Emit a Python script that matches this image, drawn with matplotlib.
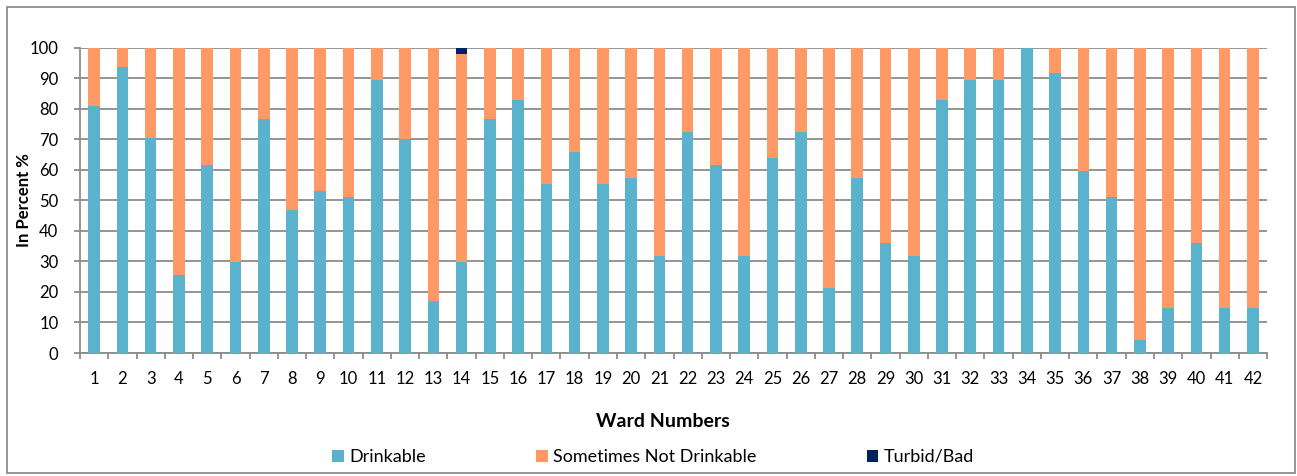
import numpy as np
import matplotlib
matplotlib.use("Agg")
import matplotlib.pyplot as plt
from matplotlib.patches import Rectangle

plt.rcParams['font.family'] = ['Lato', 'DejaVu Sans']

# share of households per ward (%)
wards = [str(i) for i in range(1, 43)]
drinkable = [81.0, 93.7, 70.4, 25.5, 61.7, 29.9, 76.7, 46.8, 53.2, 51.0,
             89.5, 70.2, 17.0, 29.9, 76.7, 83.0, 55.3, 65.9, 55.3, 57.3,
             31.8, 72.3, 61.7, 31.9, 63.9, 72.3, 21.2, 57.3, 36.1, 31.8,
             83.0, 89.5, 89.5, 100.0, 91.6, 59.5, 51.0, 4.3, 14.8, 36.1,
             14.8, 14.8]
turbid = [0] * 42
turbid[13] = 2.0
not_drinkable = [100 - d - t for d, t in zip(drinkable, turbid)]

labels = ['Drinkable', 'Sometimes Not Drinkable', 'Turbid/Bad']
colors = ['#5BB2CC', '#FF9966', '#002060']

fig = plt.figure(figsize=(12.97, 4.76), dpi=100)
ax = fig.add_axes([0.0617, 0.2584, 0.9769 - 0.0617, 0.8998 - 0.2584])

# outer chart frame
fig.patches.append(Rectangle((7 / 1297, 3 / 476), 1288 / 1297, 466 / 476,
                             transform=fig.transFigure, fill=False,
                             edgecolor='#8c8c8c', linewidth=1.3))

x = np.arange(len(wards))
w = 0.41
b1 = ax.bar(x, drinkable, w, color=colors[0], zorder=3)
b2 = ax.bar(x, not_drinkable, w, bottom=drinkable, color=colors[1], zorder=3)
b3 = ax.bar(x, turbid, w, bottom=np.array(drinkable) + np.array(not_drinkable),
            color=colors[2], zorder=3)

ax.set_xlim(-0.5, len(wards) - 0.5)
ax.set_ylim(0, 100)
ax.set_yticks(range(0, 101, 10))
ax.yaxis.grid(True, color='#8c8c8c', linewidth=1.3, zorder=0)

# category boundaries as ticks, labels centred under bars
ax.set_xticks(np.arange(-0.5, len(wards), 1))
ax.set_xticklabels([])
ax.set_xticks(x, minor=True)
ax.set_xticklabels(wards, minor=True)
ax.tick_params(axis='x', which='major', length=4, width=1.3, color='#8c8c8c', direction='out')
ax.tick_params(axis='x', which='minor', length=0, pad=13, labelsize=12)
ax.tick_params(axis='y', length=4, width=1.3, color='#8c8c8c', labelsize=12, pad=11.5)

for s in ['top', 'right']:
    ax.spines[s].set_visible(False)
for s in ['left', 'bottom']:
    ax.spines[s].set_color('#8c8c8c')
    ax.spines[s].set_linewidth(1.3)

ax.set_ylabel('In Percent %', fontsize=12, fontweight='bold')
ax.yaxis.set_label_coords(-0.0405, 0.5)
ax.set_xlabel('Ward Numbers', fontsize=14, fontweight='bold')
ax.xaxis.set_label_coords(0.491, -0.198)
ax.xaxis.label.set_va('top')

fig.legend([b1, b2, b3], labels, loc='center', bbox_to_anchor=(0.5035, 0.04),
           ncol=3, frameon=False, prop={'size': 13},
           handlelength=0.66, handleheight=0.66, handletextpad=0.28,
           columnspacing=6.1)

fig.savefig('out.png', dpi=100)
